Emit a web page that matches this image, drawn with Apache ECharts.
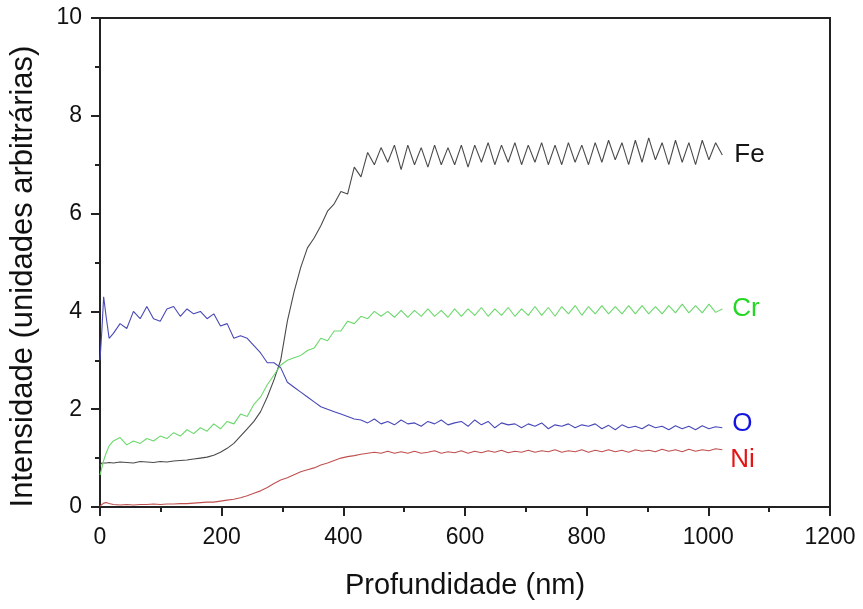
<!DOCTYPE html>
<html><head><meta charset="utf-8">
<script src="https://cdn.jsdelivr.net/npm/echarts@6/dist/echarts.min.js"></script>
<style>html,body{margin:0;padding:0;background:#fff}#c{width:863px;height:609px}</style>
</head><body><div id="c"></div>
<script>
const depth = [0,3,6,10,15,22,33,44,55,66,77,88,99,110,121,132,143,154,165,176,187,198,209,220,231,242,253,264,275,286,297,308,319,330,341,352,363,374,385,396,407,418,429,440,451,462,473,484,495,506,517,528,539,550,561,572,583,594,605,616,627,638,649,660,671,682,693,704,715,726,737,748,759,770,781,792,803,814,825,836,847,858,869,880,891,902,913,924,935,946,957,968,979,990,1001,1012,1023];
const fe = [0.85,0.9,0.92,0.9,0.91,0.9,0.92,0.91,0.9,0.93,0.92,0.91,0.93,0.92,0.94,0.95,0.96,0.98,1.0,1.02,1.06,1.12,1.2,1.3,1.45,1.6,1.75,1.95,2.25,2.6,3.0,3.8,4.4,4.9,5.3,5.5,5.75,6.05,6.2,6.45,6.4,6.95,6.75,7.25,7.0,7.35,7.05,7.4,6.9,7.4,7.0,7.35,6.95,7.4,7.0,7.35,7.0,7.4,6.95,7.4,7.05,7.45,7.0,7.4,7.05,7.45,7.0,7.4,7.05,7.45,7.0,7.4,7.0,7.45,7.05,7.4,7.0,7.45,7.05,7.5,7.1,7.45,7.0,7.5,7.05,7.55,7.1,7.45,7.0,7.5,7.05,7.45,7.0,7.5,7.1,7.45,7.2];
const cr = [0.65,0.8,0.95,1.1,1.25,1.35,1.42,1.27,1.35,1.3,1.4,1.35,1.45,1.4,1.52,1.45,1.58,1.5,1.62,1.55,1.7,1.6,1.75,1.7,1.9,1.85,2.1,2.25,2.5,2.7,2.9,3.0,3.05,3.1,3.2,3.25,3.45,3.4,3.6,3.6,3.8,3.75,3.9,3.85,4.0,3.9,4.0,3.88,4.02,3.88,4.02,3.9,4.05,3.9,4.02,3.88,4.05,3.9,4.05,3.92,4.08,3.9,4.05,3.92,4.08,3.9,4.05,3.92,4.1,3.92,4.08,3.9,4.1,3.95,4.12,3.92,4.1,3.95,4.12,3.95,4.1,3.95,4.12,3.95,4.12,3.95,4.1,3.95,4.12,3.97,4.15,3.97,4.12,3.97,4.15,3.98,4.05];
const ox = [3.0,3.6,4.3,3.9,3.45,3.55,3.75,3.65,4.0,3.85,4.1,3.85,3.8,4.05,4.1,3.9,4.05,3.95,4.0,3.85,3.95,3.7,3.75,3.45,3.5,3.45,3.3,3.15,2.95,2.95,2.85,2.55,2.45,2.35,2.25,2.15,2.05,2.0,1.95,1.9,1.85,1.8,1.78,1.72,1.8,1.7,1.75,1.68,1.78,1.7,1.72,1.65,1.75,1.7,1.78,1.68,1.72,1.75,1.65,1.78,1.68,1.75,1.62,1.72,1.68,1.7,1.62,1.7,1.65,1.72,1.6,1.68,1.65,1.7,1.62,1.68,1.65,1.7,1.6,1.67,1.58,1.68,1.62,1.65,1.6,1.68,1.62,1.65,1.58,1.66,1.6,1.65,1.58,1.66,1.6,1.64,1.62];
const ni = [0.02,0.05,0.08,0.09,0.07,0.05,0.04,0.05,0.04,0.05,0.05,0.06,0.05,0.06,0.06,0.07,0.07,0.08,0.09,0.1,0.1,0.12,0.14,0.16,0.19,0.23,0.28,0.33,0.4,0.48,0.55,0.6,0.66,0.72,0.76,0.8,0.86,0.9,0.95,1.0,1.03,1.05,1.08,1.1,1.12,1.1,1.14,1.1,1.13,1.1,1.14,1.1,1.12,1.15,1.1,1.13,1.11,1.15,1.1,1.14,1.11,1.15,1.12,1.16,1.11,1.14,1.12,1.16,1.12,1.15,1.13,1.17,1.12,1.15,1.13,1.17,1.12,1.16,1.13,1.17,1.13,1.16,1.12,1.17,1.14,1.16,1.13,1.18,1.14,1.17,1.13,1.18,1.14,1.17,1.15,1.19,1.17];
const xTicks = [0,200,400,600,800,1000,1200];
const yTicks = [0,2,4,6,8,10];

const FONT = '"Liberation Sans", Arial, sans-serif';
function pairs(v){ return depth.map((d,i)=>[d, v[i]]); }
function mk(name, vals, lineColor, labelColor, off){
  return {
    name, type:'line', data:pairs(vals), showSymbol:false, symbol:'none',
    lineStyle:{color:lineColor, width:1.1}, animation:false,
    endLabel:{show:true, formatter:name, color:labelColor, fontSize:26, fontFamily:FONT, offset:off}
  };
}
const chart = echarts.init(document.getElementById('c'));
chart.setOption({
  animation:false,
  grid:{left:100, right:33, top:18, bottom:102, show:true, borderColor:'#222', borderWidth:2, backgroundColor:'transparent'},
  xAxis:{type:'value', min:xTicks[0], max:xTicks[xTicks.length-1], interval:200,
    name:'Profundidade (nm)', nameLocation:'middle', nameGap:64,
    nameTextStyle:{fontSize:29, fontFamily:FONT, color:'#111'},
    axisLine:{lineStyle:{color:'#222', width:2}},
    axisTick:{show:true, length:9, lineStyle:{color:'#222', width:2}},
    minorTick:{show:true, splitNumber:2, length:5, lineStyle:{color:'#222', width:2}},
    splitLine:{show:false},
    axisLabel:{fontSize:23, fontFamily:FONT, color:'#111', margin:19, formatter:v=>String(v)}
  },
  yAxis:{type:'value', min:yTicks[0], max:yTicks[yTicks.length-1], interval:2,
    name:'Intensidade (unidades arbitrárias)', nameLocation:'middle', nameGap:61,
    nameTextStyle:{fontSize:31, fontFamily:FONT, color:'#111', padding:[0,28,0,0]},
    axisLine:{show:true, lineStyle:{color:'#222', width:2}},
    axisTick:{show:true, length:9, lineStyle:{color:'#222', width:2}},
    minorTick:{show:true, splitNumber:2, length:5, lineStyle:{color:'#222', width:2}},
    splitLine:{show:false},
    axisLabel:{fontSize:23, fontFamily:FONT, color:'#111', margin:18, formatter:v=>String(v)}
  },
  series:[
    mk('Fe', fe, '#4a4a4a', '#151515', [4,0]),
    mk('Cr', cr, '#6cd86c', '#22d822', [2,0]),
    mk('O', ox, '#4848b8', '#1515e0', [2,-4]),
    mk('Ni', ni, '#c05050', '#e51515', [0,10])
  ]
});
</script></body></html>
